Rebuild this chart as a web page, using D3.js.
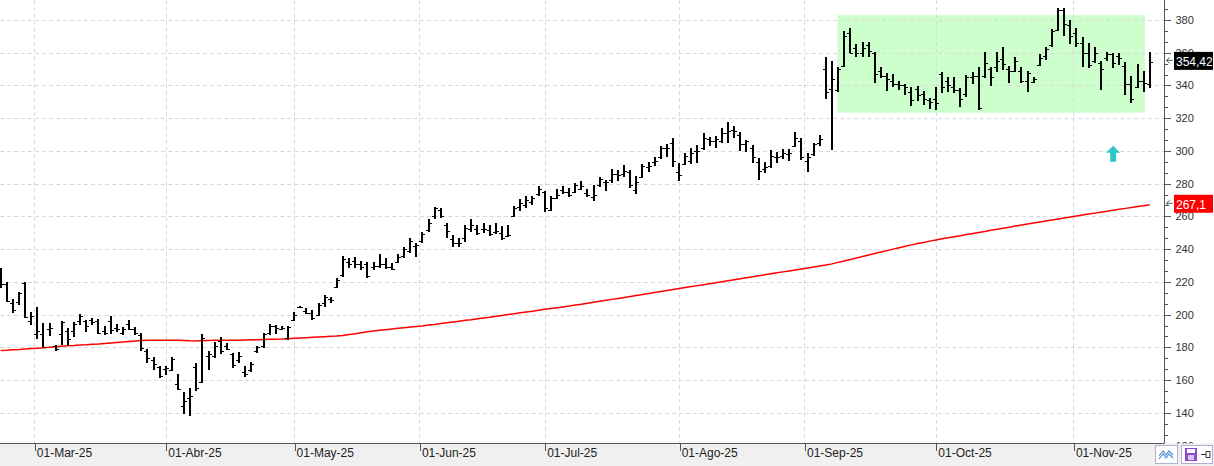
<!DOCTYPE html>
<html>
<head>
<meta charset="utf-8">
<script src="https://cdn.jsdelivr.net/npm/d3@7"></script>
<style>
  body { margin: 0; background: #fff; }
  svg { display: block; font-family: "Segoe UI", "Liberation Sans", Arial, sans-serif; }
</style>
</head>
<body>
<div id="chart"></div>
<script>
// daily bars, 21-Feb-25 .. 19-Nov-25 (index = trading day)
var barOpen = [227,219,207.3,207.5,219.3,196,188,188.1,191,181,
  188,190.2,190,196.3,196,196.5,196,190,196,192,
  188.5,194.5,191,187.5,178,172.5,168,167,166,157.5,
  144,149,168,159,175,175,184,181,176,172,
  165,166,177.5,181,189,193,191,186,197,204.5,
  202,201,200,207,209.5,217,224,232,233,231,
  231,229,230,231,229,232,236,239,242,245,
  251.5,260,264,255,246,244,247,252,252,252,
  251.5,250.5,250,248,260,265.5,267,269,273.5,275,
  264,271,276,275,275,277,274,272,279,281,
  282,286,286,287,276,284,290,293,296,302,
  305,287,292,294,300,302,307,306,306,311,
  313,310,304,302,293,289,291,296,297,298,
  303,306,294,298,305,350,338,337.5,352,372,
  363,360,365,360,349,345.5,343,341,340,336,
  338,335,331,331.5,347,342.5,339,337.5,334.5,345,
  345.5,346,350,351,356,350,349,349,343,342,
  352.5,358,365,374,386,377,372,366,360,355,
  354,357,359.5,358,352,341,339,343,341];

var barHigh = [228.3,220.1,209.3,214.0,219.9,201.8,204.8,195.1,195.1,181.4,
  195.9,192.0,195.7,200.4,196.7,197.7,197.5,193.2,199.1,194.3,
  192.6,196.7,192.6,188.6,178.8,173.9,168.6,168.6,173.9,163.7,
  152.9,155.0,170.2,188.1,177.9,183.4,186.1,182.5,176.7,177.3,
  168.6,170.9,180.8,188.9,194.1,193.6,193.2,193.2,201.8,205.4,
  203.8,202.6,207.3,212.0,210.8,222.5,235.6,234.4,235.0,232.9,
  232.3,232.3,236.8,234.8,231.3,236.8,241.5,246.6,243.6,250.3,
  258.4,265.9,265.3,255.8,248.6,246.6,254.7,258.4,254.7,256.2,
  254.7,256.2,254.1,254.7,266.4,270.4,272.5,272.5,278.6,275.7,
  272.5,276.6,278.6,277.2,280.6,281.8,276.6,279.2,284.3,282.2,
  288.8,288.3,291.4,288.3,284.7,292.0,293.4,296.1,303.0,304.2,
  307.7,292.8,298.9,301.6,303.6,310.8,308.3,309.1,313.8,317.9,
  315.2,311.4,306.7,303.6,295.5,293.4,300.6,299.5,301.0,301.0,
  311.4,307.7,298.9,305.0,309.7,357.2,355.1,351.5,373.5,375.1,
  365.3,366.6,366.6,360.6,351.1,347.4,347.0,342.9,340.9,339.2,
  339.7,336.8,332.2,339.2,348.4,345.4,345.0,338.3,346.4,348.4,
  351.1,360.6,351.5,360.6,363.7,351.9,357.2,351.5,349.0,345.4,
  359.2,363.7,374.3,387.1,387.1,380.0,374.9,369.4,365.8,363.7,
  355.1,360.6,360.0,360.0,354.5,345.8,353.1,349.0,360.6];

var barLow = [216.1,207.9,201.2,205.9,197.7,193.6,184.9,180.0,186.9,177.9,
  181.6,180.8,186.5,193.6,189.6,193.6,188.1,187.5,188.1,189.2,
  187.7,190.6,187.5,177.9,170.6,166.1,161.1,163.1,165.7,153.9,
  139.3,138.0,153.5,158.0,166.1,173.7,175.9,178.4,167.2,170.2,
  162.1,165.1,176.4,179.6,187.5,188.0,190.6,184.3,196.1,203.8,
  200.2,196.7,199.0,204.8,206.9,216.1,223.0,228.7,228.3,227.4,
  222.2,227.1,228.3,227.9,227.1,231.3,234.8,237.5,235.4,243.6,
  250.3,258.2,259.2,246.6,241.5,241.5,244.2,250.3,248.6,250.0,
  248.0,249.2,245.6,247.2,259.5,263.5,265.0,267.0,272.5,262.9,
  263.5,270.4,273.7,271.7,274.1,276.1,272.0,269.6,278.1,275.7,
  280.6,281.8,284.3,277.2,273.7,283.3,287.3,290.8,294.9,296.1,
  290.4,281.8,291.4,292.0,292.4,300.6,303.0,301.6,304.7,305.0,
  307.7,300.1,299.5,292.8,282.2,286.7,289.4,292.4,294.9,294.0,
  302.6,294.5,287.3,296.9,303.0,331.5,300.6,336.2,351.1,359.7,
  357.6,357.6,357.6,341.7,344.4,336.8,339.2,337.2,334.2,327.5,
  330.7,328.1,325.4,325.0,335.6,336.2,335.2,327.0,333.1,340.9,
  325.0,344.4,339.7,348.4,349.4,341.3,348.4,341.7,336.2,341.3,
  351.9,355.6,363.3,373.5,370.2,365.3,363.3,351.5,350.5,353.5,
  337.2,355.1,350.5,352.5,334.2,329.5,338.3,336.2,338.3];

var barClose = [219,208.5,202.8,213,198.4,199,190,180.4,192,179,
  195.5,185,194,199,193,195.5,189,189,190.5,191.5,
  191.5,191.5,188.5,179.5,173.5,170,162.5,167.5,173,154.5,
  147,150,155,186,176,181,178,179,169,175,
  164,170,180,188,193,192,192,192.5,200,204.5,
  201,198,206,211,209,221,234,231,231,229,
  223.5,229.5,231,229,228,235,240,245,242.5,249,
  256,265,260,251,243.5,244,253,255,250,252,
  249,251,247,248.5,265,268,270,271,277,265,
  271,273,275,273,279,278.5,273,273,283,281,
  286,285,288,279,281,291,291,294,302,302,
  294,285,297,299,300,308,306,307,311,312,
  312,304,306,296,288,290,297,296,299,299,
  308,296,296,304,307,336,344,350,370,360,
  360,363,361,347,346,344,341,340,339,331,
  334,332,330,329,339,340,337,332,345,346,
  326,354,345,355,353,349,355,343,347.5,344,
  357,362,373,386,377.5,370,366,360,352.5,360,
  350,359.5,353.5,356.5,341,332,343,341.5,354.42];

// 200-session moving average
var ma200 = [178.0,178.2,178.5,178.7,179.0,179.3,179.5,179.8,180.1,180.3,
  180.6,180.9,181.1,181.4,181.6,181.9,182.1,182.4,182.7,183.0,
  183.3,183.6,183.9,184.2,184.3,184.3,184.3,184.3,184.3,184.3,
  184.2,184.0,183.9,184.1,184.2,184.3,184.3,184.3,184.3,184.4,
  184.5,184.6,184.7,184.8,184.9,185.0,185.1,185.3,185.5,185.7,
  185.9,186.1,186.3,186.5,186.7,186.9,187.3,187.8,188.3,188.9,
  189.5,190.0,190.4,190.8,191.2,191.6,192.0,192.4,192.8,193.1,
  193.6,194.0,194.5,195.0,195.5,196.0,196.5,196.9,197.4,197.9,
  198.4,199.0,199.5,200.0,200.5,201.1,201.6,202.1,202.7,203.2,
  203.7,204.2,204.7,205.2,205.8,206.3,206.9,207.5,208.1,208.7,
  209.3,209.9,210.5,211.1,211.7,212.3,212.9,213.5,214.1,214.7,
  215.3,215.9,216.5,217.1,217.7,218.3,218.9,219.5,220.1,220.7,
  221.3,221.9,222.5,223.1,223.7,224.3,224.9,225.5,226.1,226.7,
  227.3,227.9,228.5,229.1,229.7,230.3,231.0,231.9,232.8,233.7,
  234.6,235.5,236.4,237.3,238.2,239.1,240.0,240.9,241.8,242.6,
  243.4,244.1,244.9,245.6,246.3,246.9,247.6,248.2,248.9,249.5,
  250.2,250.8,251.5,252.1,252.8,253.4,254.1,254.7,255.4,256.0,
  256.6,257.2,257.8,258.4,259.0,259.6,260.2,260.8,261.4,262.0,
  262.6,263.1,263.7,264.3,264.9,265.4,266.0,266.5,267.1];

var monthLabels = ["01-Mar-25","01-Abr-25","01-May-25","01-Jun-25","01-Jul-25",
  "01-Ago-25","01-Sep-25","01-Oct-25","01-Nov-25"];
var monthAt = [5.5, 27, 48, 68.5, 89, 111, 131.5, 153, 175.5];   // in bar index

var priceTicks = [140,160,180,200,220,240,260,280,300,320,340,360,380];

// range box and signal arrow
var boxFrom = 136.9, boxTo = 187.2, boxTop = 383, boxBottom = 323.4;
var signalBar = 182, signalPrice = 303.2;

var svgWidth = 1214;
var svgHeight = 466;
var axisX = 1164.5;
var plotBottom = 443.5;

var svg = d3.select('#chart').append('svg')
  .attr('width', svgWidth)
  .attr('height', svgHeight);

var x = d3.scaleLinear().domain([0, barHigh.length - 1]).range([0.7, 1149.8]);
var y = d3.scaleLinear().domain([140, 380]).range([412.8, 20]);

svg.append('defs').append('clipPath').attr('id', 'plot')
  .append('rect').attr('x', 0).attr('y', 0).attr('width', axisX).attr('height', plotBottom);

var plot = svg.append('g').attr('clip-path', 'url(#plot)');

// green range box
plot.append('rect')
  .attr('x', x(boxFrom))
  .attr('y', y(boxTop))
  .attr('width', x(boxTo) - x(boxFrom))
  .attr('height', y(boxBottom) - y(boxTop))
  .attr('fill', '#ccffcc');

// grid
plot.append('g').selectAll('line')
  .data(priceTicks)
  .enter().append('line')
  .attr('x1', 0).attr('x2', axisX)
  .attr('y1', function(d) { return Math.round(y(d)) + 0.5; })
  .attr('y2', function(d) { return Math.round(y(d)) + 0.5; })
  .attr('stroke', '#d9d9d9').attr('stroke-dasharray', '4,3');

plot.append('g').selectAll('line')
  .data(monthAt)
  .enter().append('line')
  .attr('y1', 0).attr('y2', plotBottom)
  .attr('x1', function(d) { return Math.round(x(d)) + 0.5; })
  .attr('x2', function(d) { return Math.round(x(d)) + 0.5; })
  .attr('stroke', '#d9d9d9').attr('stroke-dasharray', '4,3');

// moving average
var maLine = d3.line()
  .x(function(d, i) { return x(i); })
  .y(function(d) { return y(d); });

plot.append('path')
  .datum(ma200)
  .attr('d', maLine)
  .attr('fill', 'none')
  .attr('stroke', '#ff0000')
  .attr('stroke-width', 1.5);

// OHLC bars
var bars = plot.append('g').attr('stroke', '#000').attr('shape-rendering', 'crispEdges')
  .selectAll('g')
  .data(barHigh)
  .enter().append('g');

bars.append('line')
  .attr('x1', function(d, i) { return Math.round(x(i)); })
  .attr('x2', function(d, i) { return Math.round(x(i)); })
  .attr('y1', function(d) { return y(d); })
  .attr('y2', function(d, i) { return y(barLow[i]); })
  .attr('stroke-width', 2);

bars.append('line')
  .attr('x1', function(d, i) { return Math.round(x(i)) - 3; })
  .attr('x2', function(d, i) { return Math.round(x(i)); })
  .attr('y1', function(d, i) { return Math.round(y(barOpen[i])) + 0.5; })
  .attr('y2', function(d, i) { return Math.round(y(barOpen[i])) + 0.5; })
  .attr('stroke-width', 1);

bars.append('line')
  .attr('x1', function(d, i) { return Math.round(x(i)); })
  .attr('x2', function(d, i) { return Math.round(x(i)) + 3; })
  .attr('y1', function(d, i) { return Math.round(y(barClose[i])) + 0.5; })
  .attr('y2', function(d, i) { return Math.round(y(barClose[i])) + 0.5; })
  .attr('stroke-width', 1);

// signal arrow
var ax = x(signalBar), ay = y(signalPrice);
plot.append('path')
  .attr('d', 'M' + ax + ',' + ay + 'L' + (ax + 7) + ',' + (ay + 7) + 'L' + (ax + 3) + ',' + (ay + 7) +
    'L' + (ax + 3) + ',' + (ay + 16) + 'L' + (ax - 3) + ',' + (ay + 16) + 'L' + (ax - 3) + ',' + (ay + 7) +
    'L' + (ax - 7) + ',' + (ay + 7) + 'Z')
  .attr('fill', '#33c6c6');

// right axis
var minorTicks = [];
priceTicks.forEach(function(t) { minorTicks.push(t - 20 / 3, t - 40 / 3); });
minorTicks.push(380 + 20 / 3, 380 + 40 / 3);

var yAxisG = svg.append('g').attr('transform', 'translate(' + axisX + ',0)');
yAxisG.append('g')
  .call(d3.axisRight(y).tickValues(minorTicks).tickSize(3).tickSizeOuter(0).tickFormat(''))
  .call(function(g) { g.select('.domain').remove(); });
yAxisG.append('g')
  .call(d3.axisRight(y).tickValues(priceTicks.concat([120])).tickSize(6).tickSizeOuter(0))
  .call(function(g) { g.select('.domain').remove(); });
yAxisG.selectAll('line').attr('stroke', '#555').attr('shape-rendering', 'crispEdges');
yAxisG.selectAll('text')
  .attr('x', 11)
  .attr('fill', '#333')
  .style('font-size', '11px')
  .style('font-family', '"Segoe UI", "Liberation Sans", Arial, sans-serif');
yAxisG.append('line')
  .attr('x1', 0).attr('x2', 0).attr('y1', 0).attr('y2', plotBottom)
  .attr('stroke', '#555');

// last-value tags (drawn over the axis labels, as in the platform)
function fmt(v) { return String(v).replace('.', ','); }
var tags = [
  { value: barClose[barClose.length - 1], bg: '#000' },
  { value: ma200[ma200.length - 1], bg: '#ff0000' }
];
var tag = svg.append('g').selectAll('g').data(tags).enter().append('g')
  .attr('transform', function(d) { return 'translate(0,' + y(d.value) + ')'; });
tag.append('path')
  .attr('d', 'M1172.5,-1.5L1166.5,-1.5M1169.5,-4.5L1166.5,-1.5L1169.5,1.5')
  .attr('fill', 'none').attr('stroke', '#555');
tag.append('rect')
  .attr('x', 1174).attr('y', -10).attr('width', 39).attr('height', 18)
  .attr('fill', function(d) { return d.bg; });
tag.append('text')
  .attr('x', 1176).attr('y', 0).attr('dy', '0.32em')
  .attr('fill', '#fff').style('font-size', '12px')
  .text(function(d) { return fmt(d.value); });

// bottom strip with month axis
svg.append('rect')
  .attr('x', 0).attr('y', plotBottom).attr('width', svgWidth).attr('height', svgHeight - plotBottom)
  .attr('fill', '#f0f0f0');

var xAxisG = svg.append('g').attr('transform', 'translate(0,' + plotBottom + ')')
  .call(d3.axisBottom(x).tickValues(monthAt).tickSize(7).tickSizeOuter(0)
    .tickFormat(function(d, i) { return monthLabels[i]; }));
xAxisG.select('.domain').remove();
xAxisG.selectAll('.tick line').attr('stroke', '#555').attr('shape-rendering', 'crispEdges')
  .attr('transform', 'translate(0.5,0)');
xAxisG.selectAll('.tick text')
  .attr('text-anchor', 'start').attr('x', 2).attr('y', 5).attr('dy', '0.71em')
  .attr('fill', '#222').style('font-size', '12px')
  .style('font-family', '"Segoe UI", "Liberation Sans", Arial, sans-serif');
svg.append('line')
  .attr('x1', 0).attr('x2', axisX).attr('y1', plotBottom).attr('y2', plotBottom)
  .attr('stroke', '#555');

// small toolbar buttons, bottom right
var tb = svg.append('g');
tb.append('rect').attr('x', 1155.5).attr('y', 445.5).attr('width', 22).attr('height', 18)
  .attr('fill', '#fff').attr('stroke', '#aab4c8');
tb.append('path').attr('d', 'M1159,456L1163,451L1166,455L1169,451L1173,455M1159,459L1163,454L1166,458L1169,454L1173,458')
  .attr('fill', 'none').attr('stroke', '#5b8fd6').attr('stroke-width', 1.2);
tb.append('rect').attr('x', 1181.5).attr('y', 445.5).attr('width', 31).attr('height', 18)
  .attr('fill', '#fff').attr('stroke', '#b8a8d8');
tb.append('rect').attr('x', 1185).attr('y', 448).attr('width', 12).attr('height', 13).attr('fill', '#8a4ccc');
tb.append('rect').attr('x', 1187).attr('y', 449).attr('width', 8).attr('height', 4).attr('fill', '#fff');
tb.append('rect').attr('x', 1188).attr('y', 455).attr('width', 6).attr('height', 5).attr('fill', '#d8c8f0');
tb.append('path').attr('d', 'M1201,454.5L1206,454.5M1206,451.5L1206,457.5L1210,457.5L1210,451.5Z')
  .attr('fill', 'none').attr('stroke', '#333');
</script>
</body>
</html>
